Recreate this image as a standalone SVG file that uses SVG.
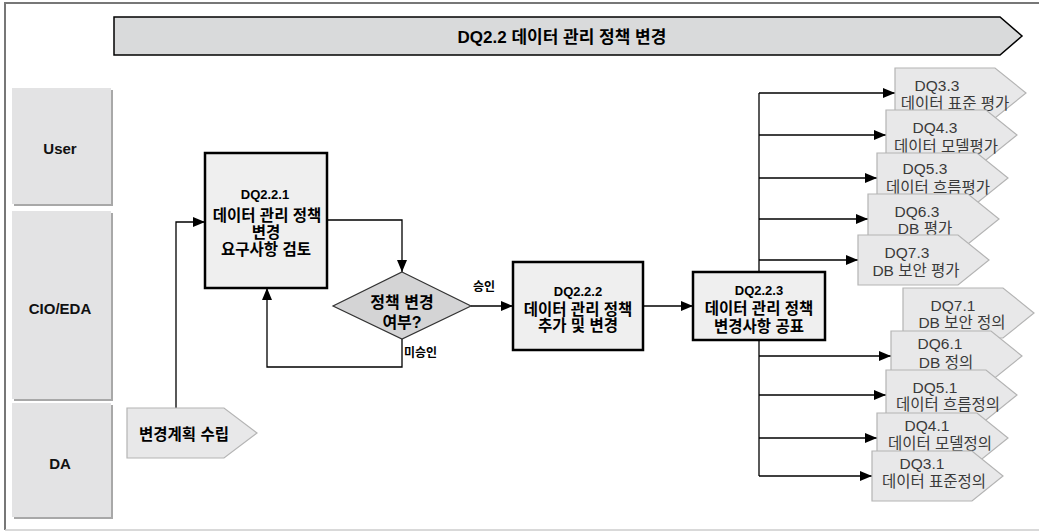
<svg xmlns="http://www.w3.org/2000/svg" width="1039" height="531" viewBox="0 0 1039 531">
<style>
text{font-family:"Liberation Sans","Noto Sans CJK KR",sans-serif;dominant-baseline:central;text-anchor:middle;fill:#000}
.lane{fill:#e3e3e4}
.lsh{fill:#a8a8a8}
.lt{font-size:15px;font-weight:bold;fill:#111}
.box{fill:#efefef;stroke:#000;stroke-width:2.5}
.bt{font-size:15.5px;font-weight:bold}
.id{font-size:13px;font-weight:bold}
.chev{fill:#e8e8e9;stroke:#b4b4b4;stroke-width:1.2}
.ct{font-size:15.5px;fill:#3a3a3a}
.conn path{fill:none;stroke:#000;stroke-width:1.3;marker-end:url(#ah)}
.lbl{font-size:12px;font-weight:bold;text-anchor:start}
</style>
<defs>
<marker id="ah" viewBox="0 0 12 10" refX="12" refY="5" markerWidth="12" markerHeight="10" markerUnits="userSpaceOnUse" orient="auto">
<path d="M0,0 L12,5 L0,10 Z" fill="#000"/>
</marker>
</defs>
<rect width="1039" height="531" fill="#fff"/>
<!-- frame -->
<path d="M5,530 V3 H1039" fill="none" stroke="#777" stroke-width="2"/>
<path d="M5,530 H1039" fill="none" stroke="#ccc" stroke-width="1.5"/>
<!-- banner -->
<g id="banner">
<polygon points="114,17 1000,17 1022,36 1000,55 114,55" fill="#d9dadb" stroke="#000" stroke-width="1.5"/>
<text x="562" y="37" style="font-size:17px;font-weight:bold">DQ2.2 데이터 관리 정책 변경</text>
</g>
<!-- lanes -->
<g id="lane-user">
<rect class="lsh" x="14" y="90" width="99" height="116"/>
<rect class="lane" x="12" y="88" width="99" height="116"/>
<text class="lt" x="60" y="148">User</text>
</g>
<g id="lane-cio">
<rect class="lsh" x="14" y="213" width="99" height="188"/>
<rect class="lane" x="12" y="211" width="99" height="188"/>
<text class="lt" x="60" y="308">CIO/EDA</text>
</g>
<g id="lane-da">
<rect class="lsh" x="14" y="405" width="99" height="114"/>
<rect class="lane" x="12" y="403" width="99" height="114"/>
<text class="lt" x="60" y="463">DA</text>
</g>
<!-- connectors -->
<g id="connectors" class="conn">
<path d="M176,408 V222 H205"/>
<path d="M327,220 H402 V272"/>
<path d="M402,339 V367 H267 V288"/>
<path d="M471,306 H513"/>
<path d="M643,306 H693"/>
<path d="M759,272 V93" style="marker-end:none"/>
<path d="M759,93 H895"/>
<path d="M759,135 H886"/>
<path d="M759,178 H877"/>
<path d="M759,219 H868"/>
<path d="M759,260 H858"/>
<path d="M759,340 V476" style="marker-end:none"/>
<path d="M759,356 H891"/>
<path d="M759,395 H886"/>
<path d="M759,438 H877"/>
<path d="M759,476 H872"/>
<text class="lbl" x="473" y="287">승인</text>
<text class="lbl" x="404" y="353">미승인</text>
</g>
<!-- start -->
<g id="n-start">
<polygon class="chev" points="127,408 224,408 257,433 224,458 127,458"/>
<text x="184" y="434" style="font-size:15.5px;font-weight:bold">변경계획 수립</text>
</g>
<g id="n-2-2-1">
<rect class="box" x="205" y="153" width="122" height="135"/>
<text class="id" x="265" y="194">DQ2.2.1</text>
<text class="bt" x="267" y="215">데이터 관리 정책</text>
<text class="bt" x="266" y="232">변경</text>
<text class="bt" x="266" y="249">요구사항 검토</text>
</g>
<g id="n-decision">
<polygon points="402,272 471,306 402,339 333,306" fill="#d4d4d5" stroke="#333" stroke-width="1.2"/>
<text x="402" y="302" style="font-size:16px;font-weight:bold">정책 변경</text>
<text x="402" y="322" style="font-size:16px;font-weight:bold">여부?</text>
</g>
<g id="n-2-2-2">
<rect class="box" x="513" y="262" width="130" height="88"/>
<text class="id" x="578" y="291">DQ2.2.2</text>
<text class="bt" x="578" y="309">데이터 관리 정책</text>
<text class="bt" x="578" y="325">추가 및 변경</text>
</g>
<g id="n-2-2-3">
<rect class="box" x="693" y="272" width="132" height="68"/>
<text class="id" x="759" y="290">DQ2.2.3</text>
<text class="bt" x="759" y="308">데이터 관리 정책</text>
<text class="bt" x="759" y="326">변경사항 공표</text>
</g>
<!-- upper targets -->
<g id="n-dq33">
<polygon class="chev" points="895,68 995,68 1026,93 995,118 895,118"/>
<text class="ct" x="937" y="85">DQ3.3</text>
<text class="ct" x="955" y="103">데이터 표준 평가</text>
</g>
<g id="n-dq43">
<polygon class="chev" points="886,110 986,110 1017,135 986,160 886,160"/>
<text class="ct" x="935" y="127">DQ4.3</text>
<text class="ct" x="946" y="146">데이터 모델평가</text>
</g>
<g id="n-dq53">
<polygon class="chev" points="877,153 977,153 1008,178 977,203 877,203"/>
<text class="ct" x="925" y="168">DQ5.3</text>
<text class="ct" x="938" y="187">데이터 흐름평가</text>
</g>
<g id="n-dq63">
<polygon class="chev" points="868,194 968,194 999,219 968,244 868,244"/>
<text class="ct" x="917" y="211">DQ6.3</text>
<text class="ct" x="925" y="228">DB 평가</text>
</g>
<g id="n-dq73">
<polygon class="chev" points="858,235 958,235 989,260 958,285 858,285"/>
<text class="ct" x="907" y="252">DQ7.3</text>
<text class="ct" x="916" y="270">DB 보안 평가</text>
</g>
<!-- lower targets -->
<g id="n-dq71">
<polygon class="chev" points="903,288 1003,288 1034,313 1003,338 903,338"/>
<text class="ct" x="953" y="305">DQ7.1</text>
<text class="ct" x="962" y="322">DB 보안 정의</text>
</g>
<g id="n-dq61">
<polygon class="chev" points="891,331 991,331 1022,356 991,381 891,381"/>
<text class="ct" x="940" y="343">DQ6.1</text>
<text class="ct" x="946" y="362">DB 정의</text>
</g>
<g id="n-dq51">
<polygon class="chev" points="886,370 986,370 1017,395 986,420 886,420"/>
<text class="ct" x="935" y="387">DQ5.1</text>
<text class="ct" x="948" y="404">데이터 흐름정의</text>
</g>
<g id="n-dq41">
<polygon class="chev" points="877,413 977,413 1008,438 977,463 877,463"/>
<text class="ct" x="927" y="425">DQ4.1</text>
<text class="ct" x="940" y="443">데이터 모델정의</text>
</g>
<g id="n-dq31">
<polygon class="chev" points="872,451 972,451 1003,476 972,501 872,501"/>
<text class="ct" x="922" y="463">DQ3.1</text>
<text class="ct" x="934" y="481">데이터 표준정의</text>
</g>
</svg>
